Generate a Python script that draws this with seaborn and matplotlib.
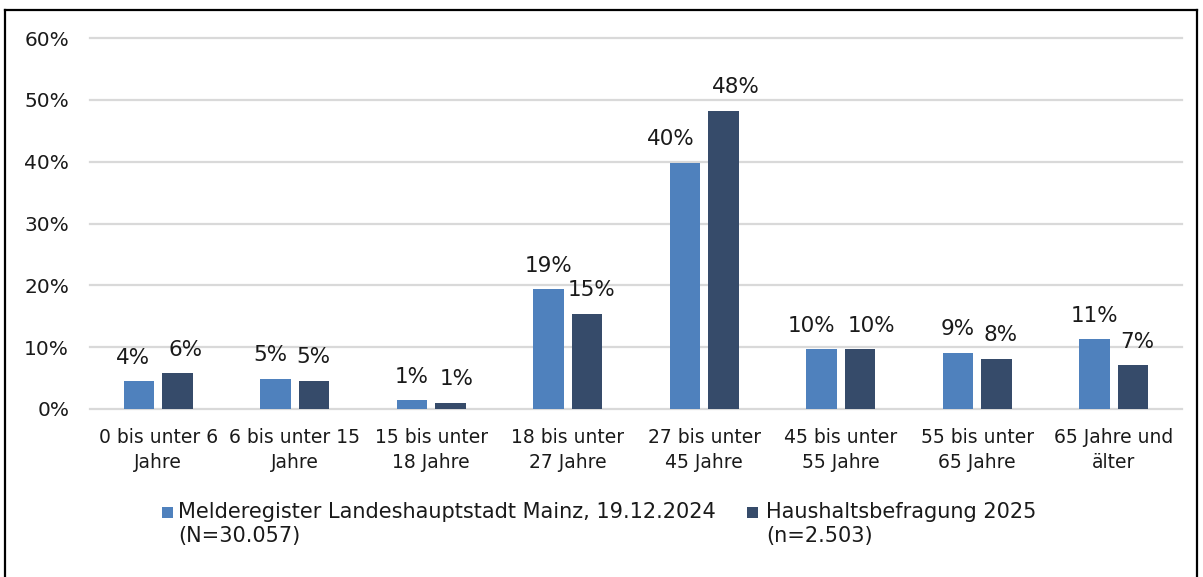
import matplotlib
matplotlib.use("Agg")
import matplotlib.pyplot as plt
from matplotlib.lines import Line2D
from matplotlib.patches import Rectangle
import seaborn as sns
import pandas as pd

# ---- data ----
categories = ["0 bis unter 6\nJahre", "6 bis unter 15\nJahre", "15 bis unter\n18 Jahre",
              "18 bis unter\n27 Jahre", "27 bis unter\n45 Jahre", "45 bis unter\n55 Jahre",
              "55 bis unter\n65 Jahre", "65 Jahre und\nälter"]
series_names = ["Melderegister Landeshauptstadt Mainz, 19.12.2024\n(N=30.057)",
                "Haushaltsbefragung 2025\n(n=2.503)"]
melderegister = [4.5, 4.9, 1.4, 19.4, 39.8, 9.7, 9.1, 11.3]
befragung = [5.8, 4.6, 1.0, 15.4, 48.2, 9.7, 8.1, 7.1]
labels_melde = ["4%", "5%", "1%", "19%", "40%", "10%", "9%", "11%"]
labels_befr = ["6%", "5%", "1%", "15%", "48%", "10%", "8%", "7%"]
yticks = [0, 10, 20, 30, 40, 50, 60]

# label nudges in pixels (layout only)
nudge_melde = [-6, -5, 0, 0, -14, -10, 0, 0]
nudge_befr = [8, -1, 6, 5, 12, 12, 4, 4]

colors = ["#4F81BD", "#364B6A"]

df = pd.DataFrame({
    "Kategorie": categories * 2,
    "Serie": [series_names[0]] * len(categories) + [series_names[1]] * len(categories),
    "Wert": melderegister + befragung,
})

W, H = 1203, 577
PX = 0.72  # points per pixel at 100 dpi
fig = plt.figure(figsize=(W / 100, H / 100), dpi=100)
ax = fig.add_axes([90 / W, 1 - 409 / H, (1182 - 90) / W, (409 - 38) / H])

sns.barplot(data=df, x="Kategorie", y="Wert", hue="Serie", palette=colors,
            width=0.564, gap=0.195, ax=ax, legend=False, saturation=1,
            edgecolor="none")

ax.set_ylim(0, 60)
ax.set_xlim(-0.5, len(categories) - 0.5)
ax.set_yticks(yticks)
ax.set_yticklabels([f"{v}%" for v in yticks], fontsize=14.5, color="#1a1a1a")
ax.tick_params(axis="x", labelsize=13.5, colors="#1a1a1a", length=0, pad=14)
ax.tick_params(axis="y", length=0, pad=15)
for t in ax.get_xticklabels():
    t.set_linespacing(1.4)
ax.set_xlabel("")
ax.set_ylabel("")
ax.grid(axis="y", color="#D9D9D9", linewidth=1.6)
for gl in ax.get_ygridlines():
    gl.set_clip_on(False)
ax.set_axisbelow(True)
for s in ax.spines.values():
    s.set_visible(False)

# data labels
all_labels = [labels_melde, labels_befr]
all_nudges = [nudge_melde, nudge_befr]
for ci, cont in enumerate(ax.containers):
    for bi, bar in enumerate(cont):
        x = bar.get_x() + bar.get_width() / 2
        h = bar.get_height()
        ax.annotate(all_labels[ci][bi], (x, h),
                    xytext=(all_nudges[ci][bi] * PX, 17.5 * PX),
                    textcoords="offset points", ha="center", va="baseline",
                    fontsize=15.5, color="#1a1a1a")

# legend (drawn manually so the swatch sits on the first text line)
legend_sq_x = [161.5, 746.5]
legend_txt_x = [178, 766]
for c, name, sx, tx in zip(colors, series_names, legend_sq_x, legend_txt_x):
    fig.add_artist(Rectangle((sx / W, 1 - 518 / H), 11.5 / W, 11.5 / H,
                             facecolor=c, edgecolor="none", transform=fig.transFigure))
    for li, line in enumerate(name.split("\n")):
        fig.text(tx / W, 1 - (518 + 24 * li) / H, line, fontsize=15,
                 color="#1a1a1a", ha="left", va="baseline")

# figure frame (top, left, right)
lw = 1.6
fig.add_artist(Line2D([5 / W, 5 / W], [0, 1 - 10 / H], color="black", lw=lw, transform=fig.transFigure))
fig.add_artist(Line2D([1197 / W, 1197 / W], [0, 1 - 10 / H], color="black", lw=lw, transform=fig.transFigure))
fig.add_artist(Line2D([5 / W, 1197 / W], [1 - 10 / H, 1 - 10 / H], color="black", lw=lw, transform=fig.transFigure))

fig.savefig("out.png", dpi=100)
